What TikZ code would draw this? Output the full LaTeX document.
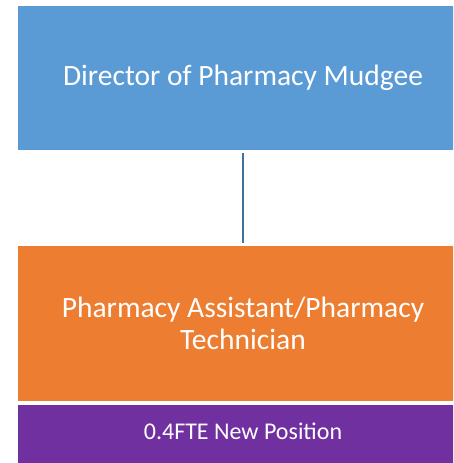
\documentclass[tikz,border=0pt]{standalone}
\usepackage{fontspec}
\setmainfont{Carlito}

% box colours
\definecolor{dirblue}{HTML}{5B9BD5}
\definecolor{techorange}{HTML}{ED7D31}
\definecolor{newpurple}{HTML}{7030A0}
\definecolor{linkblue}{HTML}{41719C}

\tikzset{
  rolebox/.style={rectangle, text=white, align=center, minimum width=450pt, inner sep=0pt},
  rolelink/.style={draw=linkblue, line width=1.6pt, shorten >=3pt, shorten <=3pt}
}

\begin{document}
\begin{tikzpicture}[x=1pt,y=-1pt]
  \useasboundingbox (0,0) rectangle (453,463);
  \clip (0,0) rectangle (453,463);

  % Director box
  \node[rolebox, fill=dirblue, minimum height=144pt, anchor=north,
        font=\fontsize{29.5}{32}\selectfont] (director) at (243,6)
        {Director of Pharmacy Mudgee};

  % Assistant / technician box
  \node[rolebox, fill=techorange, minimum height=155pt, anchor=north,
        font=\fontsize{29.5}{32}\selectfont] (technician) at (243,246)
        {Pharmacy Assistant/Pharmacy\\Technician};

  % New position strip
  \node[rolebox, fill=newpurple, minimum height=62pt, anchor=north,
        text height=16pt, text depth=9pt,
        font=\fontsize{24}{28}\selectfont] (newpos) at (243,405)
        {0.4FTE New Position};

  % Reporting line
  \draw[rolelink] (director.south) -- (technician.north);
\end{tikzpicture}
\end{document}
